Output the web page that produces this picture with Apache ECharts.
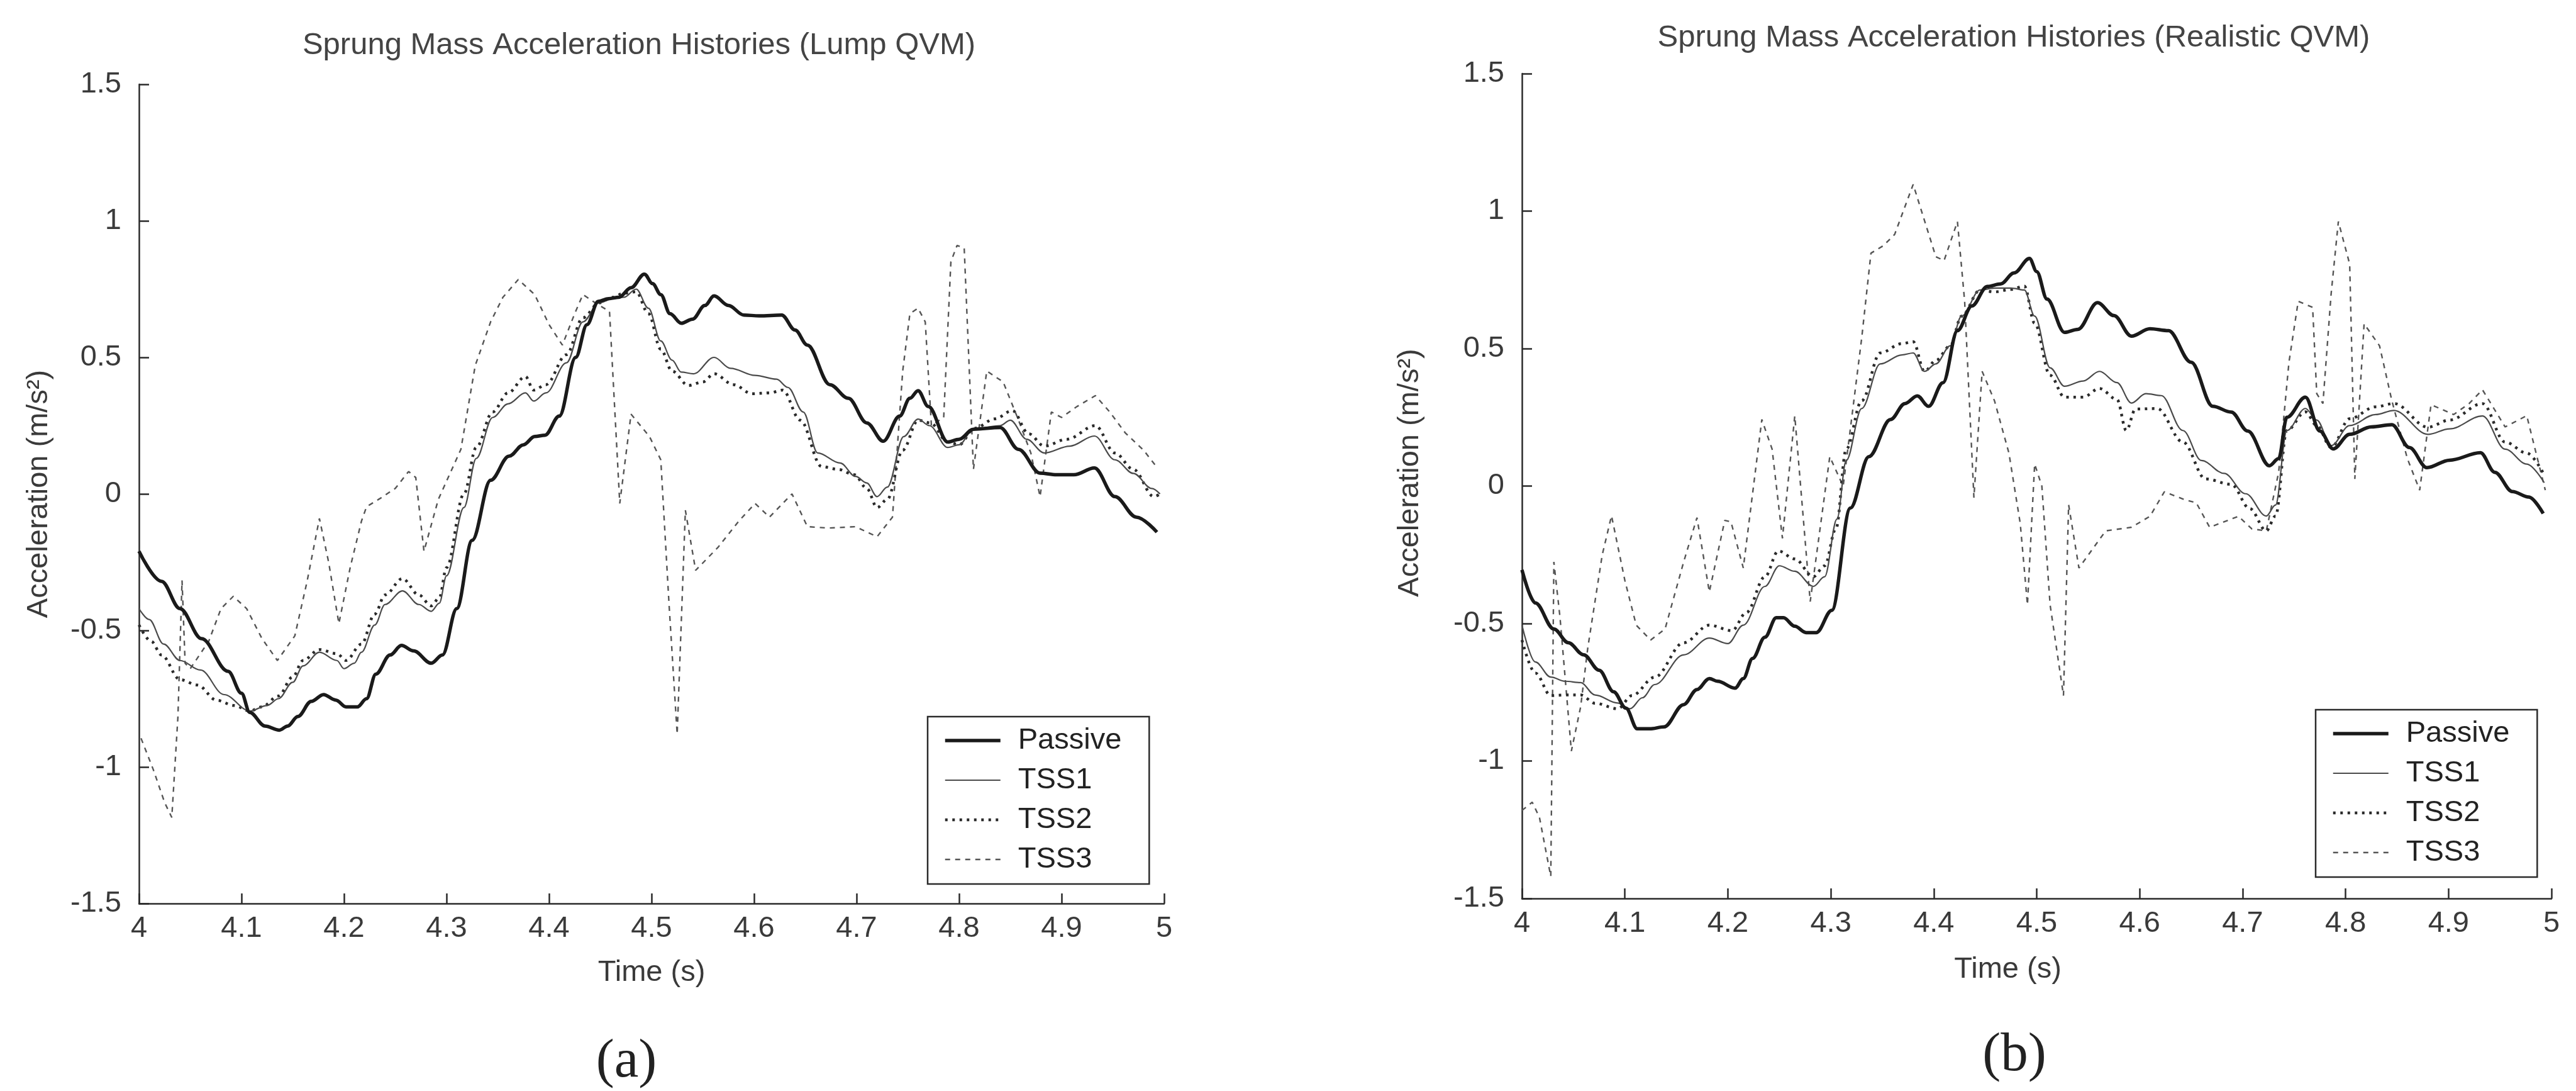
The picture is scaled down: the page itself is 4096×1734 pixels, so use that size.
<!DOCTYPE html>
<html>
<head>
<meta charset="utf-8">
<title>Sprung Mass Acceleration Histories</title>
<script src="https://cdn.jsdelivr.net/npm/echarts@6/dist/echarts.min.js"></script>
<style>
  html, body { margin: 0; padding: 0; background: #fff; }
  #chart { width: 4096px; height: 1734px; }
</style>
</head>
<body>
<div id="chart"></div>
<script>
// ---- Data: [time (s), acceleration (m/s^2)] ----
const seriesNames = ['Passive', 'TSS1', 'TSS2', 'TSS3'];
const panelTitles = ['Sprung Mass Acceleration Histories (Lump QVM)', 'Sprung Mass Acceleration Histories (Realistic QVM)'];
const panelTags = ['(a)', '(b)'];
const xAxisTitle = 'Time (s)';
const yAxisTitle = 'Acceleration (m/s²)';
const timeTicks = [4, 4.1, 4.2, 4.3, 4.4, 4.5, 4.6, 4.7, 4.8, 4.9, 5];
const accelTicks = [-1.5, -1, -0.5, 0, 0.5, 1, 1.5];

// Lump QVM
const lumpPassive = [[4.000,-0.21],[4.022,-0.32],[4.040,-0.42],[4.061,-0.53],[4.087,-0.65],[4.100,-0.73],[4.108,-0.80],[4.123,-0.85],[4.137,-0.865],[4.145,-0.85],[4.155,-0.815],[4.168,-0.76],[4.180,-0.735],[4.192,-0.755],[4.202,-0.78],[4.213,-0.78],[4.222,-0.75],[4.231,-0.66],[4.245,-0.59],[4.256,-0.555],[4.268,-0.575],[4.285,-0.62],[4.296,-0.59],[4.310,-0.42],[4.325,-0.17],[4.343,0.05],[4.361,0.138],[4.375,0.18],[4.386,0.21],[4.396,0.215],[4.410,0.285],[4.426,0.50],[4.437,0.62],[4.448,0.705],[4.458,0.715],[4.468,0.72],[4.480,0.755],[4.493,0.805],[4.501,0.77],[4.509,0.73],[4.518,0.66],[4.529,0.625],[4.540,0.64],[4.552,0.69],[4.561,0.725],[4.575,0.69],[4.590,0.655],[4.605,0.652],[4.627,0.655],[4.640,0.60],[4.652,0.545],[4.674,0.40],[4.692,0.35],[4.710,0.26],[4.726,0.193],[4.742,0.285],[4.752,0.35],[4.760,0.378],[4.770,0.32],[4.789,0.19],[4.800,0.20],[4.814,0.237],[4.840,0.243],[4.858,0.163],[4.879,0.076],[4.895,0.07],[4.912,0.07],[4.932,0.095],[4.952,-0.01],[4.973,-0.085],[4.993,-0.14]];
const lumpTSS1 = [[4.000,-0.42],[4.010,-0.46],[4.024,-0.55],[4.040,-0.61],[4.060,-0.645],[4.083,-0.735],[4.108,-0.795],[4.125,-0.775],[4.136,-0.75],[4.150,-0.69],[4.160,-0.63],[4.176,-0.58],[4.193,-0.61],[4.200,-0.64],[4.210,-0.62],[4.217,-0.58],[4.230,-0.48],[4.240,-0.405],[4.257,-0.355],[4.273,-0.405],[4.285,-0.43],[4.293,-0.40],[4.300,-0.30],[4.317,-0.05],[4.329,0.13],[4.345,0.28],[4.360,0.33],[4.377,0.37],[4.385,0.34],[4.397,0.37],[4.417,0.48],[4.433,0.63],[4.449,0.70],[4.462,0.715],[4.473,0.72],[4.485,0.75],[4.497,0.68],[4.509,0.56],[4.520,0.49],[4.529,0.446],[4.541,0.44],[4.561,0.50],[4.577,0.46],[4.601,0.434],[4.622,0.42],[4.633,0.39],[4.648,0.30],[4.662,0.15],[4.684,0.113],[4.699,0.064],[4.710,0.04],[4.720,-0.01],[4.730,0.025],[4.746,0.21],[4.760,0.274],[4.771,0.25],[4.789,0.17],[4.800,0.18],[4.814,0.237],[4.840,0.25],[4.850,0.27],[4.866,0.20],[4.883,0.15],[4.908,0.175],[4.932,0.212],[4.952,0.125],[4.970,0.075],[4.988,0.02],[4.996,0.0]];
const lumpTSS2 = [[4.000,-0.48],[4.012,-0.54],[4.022,-0.59],[4.040,-0.68],[4.057,-0.70],[4.076,-0.756],[4.093,-0.775],[4.108,-0.795],[4.120,-0.78],[4.136,-0.74],[4.150,-0.67],[4.160,-0.61],[4.176,-0.57],[4.193,-0.585],[4.202,-0.61],[4.217,-0.55],[4.230,-0.44],[4.240,-0.37],[4.257,-0.31],[4.273,-0.37],[4.285,-0.41],[4.293,-0.38],[4.300,-0.27],[4.317,0.0],[4.329,0.17],[4.345,0.30],[4.360,0.37],[4.377,0.43],[4.385,0.38],[4.397,0.40],[4.417,0.51],[4.433,0.645],[4.449,0.70],[4.462,0.72],[4.473,0.735],[4.485,0.74],[4.497,0.66],[4.509,0.53],[4.520,0.45],[4.536,0.397],[4.550,0.41],[4.561,0.44],[4.580,0.40],[4.598,0.367],[4.615,0.37],[4.628,0.38],[4.645,0.27],[4.666,0.10],[4.682,0.09],[4.698,0.07],[4.710,0.02],[4.720,-0.05],[4.730,-0.02],[4.745,0.16],[4.760,0.27],[4.772,0.26],[4.789,0.19],[4.800,0.18],[4.815,0.24],[4.835,0.275],[4.852,0.305],[4.868,0.22],[4.883,0.175],[4.905,0.20],[4.933,0.25],[4.952,0.15],[4.970,0.09],[4.990,-0.01],[4.996,0.0]];
const lumpTSS3 = [[4.002,-0.895],[4.014,-1.01],[4.025,-1.13],[4.032,-1.185],[4.038,-0.815],[4.042,-0.317],[4.045,-0.62],[4.050,-0.64],[4.068,-0.54],[4.080,-0.42],[4.092,-0.375],[4.105,-0.42],[4.120,-0.53],[4.135,-0.61],[4.152,-0.52],[4.164,-0.32],[4.176,-0.09],[4.185,-0.25],[4.195,-0.475],[4.206,-0.27],[4.217,-0.10],[4.222,-0.047],[4.235,-0.017],[4.250,0.02],[4.263,0.082],[4.270,0.06],[4.278,-0.21],[4.292,-0.02],[4.314,0.163],[4.328,0.47],[4.343,0.63],[4.355,0.72],[4.370,0.785],[4.386,0.73],[4.400,0.62],[4.413,0.545],[4.425,0.66],[4.433,0.73],[4.445,0.70],[4.459,0.668],[4.469,-0.035],[4.480,0.292],[4.498,0.21],[4.509,0.125],[4.517,-0.40],[4.525,-0.88],[4.533,-0.06],[4.543,-0.28],[4.565,-0.195],[4.585,-0.10],[4.601,-0.035],[4.615,-0.085],[4.637,0.0],[4.652,-0.12],[4.673,-0.125],[4.699,-0.12],[4.720,-0.157],[4.735,-0.085],[4.745,0.45],[4.752,0.66],[4.760,0.68],[4.767,0.63],[4.773,0.25],[4.785,0.28],[4.792,0.85],[4.798,0.91],[4.805,0.90],[4.814,0.09],[4.827,0.45],[4.843,0.41],[4.858,0.27],[4.870,0.15],[4.879,-0.01],[4.890,0.30],[4.900,0.28],[4.915,0.32],[4.933,0.36],[4.947,0.30],[4.962,0.224],[4.980,0.16],[4.991,0.107]];

// Realistic QVM
const realPassive = [[4.000,-0.305],[4.013,-0.425],[4.031,-0.52],[4.045,-0.57],[4.060,-0.614],[4.075,-0.67],[4.089,-0.748],[4.101,-0.808],[4.112,-0.883],[4.124,-0.883],[4.138,-0.876],[4.157,-0.795],[4.170,-0.74],[4.182,-0.70],[4.190,-0.71],[4.207,-0.735],[4.215,-0.70],[4.224,-0.627],[4.236,-0.55],[4.247,-0.479],[4.254,-0.479],[4.265,-0.51],[4.276,-0.533],[4.286,-0.533],[4.301,-0.452],[4.319,-0.08],[4.337,0.107],[4.358,0.242],[4.372,0.30],[4.384,0.328],[4.395,0.29],[4.409,0.376],[4.423,0.565],[4.437,0.655],[4.452,0.726],[4.465,0.735],[4.478,0.775],[4.493,0.828],[4.500,0.78],[4.510,0.68],[4.527,0.559],[4.540,0.57],[4.559,0.667],[4.575,0.62],[4.592,0.545],[4.610,0.572],[4.628,0.565],[4.650,0.45],[4.671,0.29],[4.689,0.269],[4.705,0.20],[4.726,0.074],[4.735,0.10],[4.743,0.25],[4.761,0.323],[4.775,0.20],[4.788,0.135],[4.804,0.188],[4.825,0.215],[4.845,0.223],[4.862,0.14],[4.879,0.067],[4.901,0.094],[4.931,0.121],[4.945,0.05],[4.962,-0.02],[4.978,-0.04],[4.992,-0.10]];
const realTSS1 = [[4.000,-0.506],[4.013,-0.64],[4.028,-0.695],[4.042,-0.71],[4.057,-0.715],[4.071,-0.76],[4.093,-0.789],[4.105,-0.81],[4.117,-0.77],[4.129,-0.722],[4.157,-0.614],[4.182,-0.553],[4.200,-0.573],[4.215,-0.506],[4.236,-0.365],[4.250,-0.29],[4.265,-0.31],[4.283,-0.365],[4.294,-0.33],[4.306,-0.12],[4.315,0.093],[4.330,0.282],[4.348,0.444],[4.369,0.477],[4.380,0.484],[4.391,0.417],[4.402,0.444],[4.416,0.51],[4.427,0.618],[4.445,0.713],[4.459,0.72],[4.475,0.72],[4.488,0.713],[4.498,0.618],[4.513,0.43],[4.527,0.363],[4.545,0.382],[4.561,0.417],[4.578,0.376],[4.592,0.302],[4.606,0.336],[4.621,0.329],[4.642,0.202],[4.660,0.093],[4.682,0.046],[4.703,-0.028],[4.723,-0.109],[4.732,-0.069],[4.743,0.202],[4.761,0.282],[4.772,0.24],[4.786,0.147],[4.804,0.22],[4.829,0.26],[4.847,0.275],[4.880,0.188],[4.901,0.208],[4.933,0.255],[4.955,0.134],[4.976,0.08],[4.993,0.012]];
const realTSS2 = [[4.000,-0.56],[4.013,-0.68],[4.028,-0.762],[4.042,-0.76],[4.057,-0.76],[4.071,-0.79],[4.093,-0.81],[4.107,-0.762],[4.129,-0.695],[4.157,-0.57],[4.182,-0.506],[4.204,-0.526],[4.218,-0.46],[4.236,-0.33],[4.249,-0.236],[4.265,-0.265],[4.283,-0.33],[4.294,-0.29],[4.305,-0.155],[4.315,0.134],[4.330,0.31],[4.348,0.484],[4.369,0.518],[4.380,0.525],[4.391,0.417],[4.402,0.457],[4.416,0.51],[4.427,0.618],[4.445,0.713],[4.459,0.706],[4.475,0.715],[4.488,0.727],[4.498,0.592],[4.513,0.403],[4.527,0.323],[4.545,0.323],[4.561,0.355],[4.578,0.315],[4.587,0.202],[4.596,0.28],[4.617,0.282],[4.642,0.16],[4.664,0.026],[4.689,0.006],[4.707,-0.082],[4.723,-0.163],[4.732,-0.109],[4.743,0.202],[4.761,0.27],[4.772,0.22],[4.786,0.14],[4.804,0.245],[4.829,0.288],[4.847,0.30],[4.880,0.214],[4.901,0.24],[4.933,0.30],[4.955,0.16],[4.976,0.12],[4.993,0.04]];
const realTSS3 = [[4.000,-1.18],[4.010,-1.15],[4.017,-1.205],[4.028,-1.42],[4.031,-0.276],[4.037,-0.479],[4.048,-0.964],[4.057,-0.803],[4.064,-0.587],[4.078,-0.25],[4.087,-0.108],[4.100,-0.344],[4.111,-0.506],[4.125,-0.56],[4.139,-0.52],[4.157,-0.277],[4.170,-0.115],[4.182,-0.385],[4.197,-0.125],[4.203,-0.13],[4.215,-0.298],[4.233,0.242],[4.243,0.134],[4.253,-0.19],[4.265,0.255],[4.280,-0.42],[4.299,0.107],[4.312,-0.001],[4.330,0.538],[4.339,0.847],[4.351,0.874],[4.362,0.915],[4.380,1.097],[4.402,0.834],[4.410,0.82],[4.423,0.962],[4.430,0.672],[4.439,-0.042],[4.447,0.417],[4.459,0.31],[4.473,0.12],[4.484,-0.136],[4.491,-0.432],[4.498,0.08],[4.505,0.0],[4.513,-0.432],[4.526,-0.762],[4.531,-0.068],[4.541,-0.298],[4.567,-0.163],[4.592,-0.15],[4.610,-0.11],[4.624,-0.021],[4.644,-0.05],[4.655,-0.061],[4.668,-0.15],[4.696,-0.11],[4.709,-0.156],[4.723,-0.163],[4.735,0.05],[4.745,0.45],[4.754,0.672],[4.768,0.65],[4.772,0.336],[4.778,0.30],[4.786,0.70],[4.793,0.962],[4.804,0.807],[4.809,0.026],[4.818,0.59],[4.833,0.51],[4.845,0.31],[4.860,0.10],[4.872,-0.015],[4.883,0.296],[4.905,0.26],[4.920,0.30],[4.933,0.35],[4.955,0.215],[4.976,0.256],[4.994,-0.015]];

const panelData = [
  [lumpPassive, lumpTSS1, lumpTSS2, lumpTSS3],
  [realPassive, realTSS1, realTSS2, realTSS3]
];

// ---- Styling ----
const FONT = '"Liberation Sans", Arial, Helvetica, sans-serif';
const SERIF = '"Liberation Serif", "Times New Roman", serif';
const INK = '#2a2a2a';
const TEXT = '#3a3a3a';

const lineStyles = [
  { color: '#1a1a1a', width: 5.5, type: 'solid' },        // Passive: heavy solid
  { color: '#4a4a4a', width: 2.2, type: 'solid' },        // TSS1: thin solid
  { color: '#2a2a2a', width: 4.5, type: [4, 7.5] },       // TSS2: dotted
  { color: '#555555', width: 2.4, type: [8, 8] }          // TSS3: dashed
];
const smoothing = [0.35, 0.35, 0.35, false];

// Panel geometry (pixels)
const grids = [
  { left: 221, top: 134, width: 1630, height: 1302 },
  { left: 2420, top: 117, width: 1637, height: 1311 }
];
const titlePos = [[1016, 72], [3202, 60]];
const tagPos = [[996, 1688], [3203, 1678]];
const legendPos = [[1475, 1139], [3682, 1128]];
const xNameGap = [87, 90];
const xNamePad = [[0, 0, 0, 0], [0, 92, 0, 0]];
const yNameGap = [135, 154];
const yNamePad = [[0, 0, 0, 0], [0, 0, 0, 42]];

const xAxes = grids.map((g, i) => ({
  type: 'value',
  gridIndex: i,
  min: timeTicks[0],
  max: timeTicks[timeTicks.length - 1],
  interval: 0.1,
  name: xAxisTitle,
  nameLocation: 'middle',
  nameGap: xNameGap[i],
  nameTextStyle: { fontFamily: FONT, fontSize: 47, color: TEXT, padding: xNamePad[i] },
  axisLine: { show: true, onZero: false, lineStyle: { color: INK, width: 2.5 } },
  axisTick: { show: true, inside: true, length: 16, lineStyle: { color: INK, width: 2.5 } },
  axisLabel: {
    fontFamily: FONT, fontSize: 47, color: TEXT, margin: 17,
    formatter: v => { const t = timeTicks.find(k => Math.abs(k - v) < 1e-6); return t === undefined ? '' : String(t); }
  },
  splitLine: { show: false }
}));

const yAxes = grids.map((g, i) => ({
  type: 'value',
  gridIndex: i,
  min: accelTicks[0],
  max: accelTicks[accelTicks.length - 1],
  interval: 0.5,
  name: yAxisTitle,
  nameLocation: 'middle',
  nameGap: yNameGap[i],
  nameRotate: 90,
  nameTextStyle: { fontFamily: FONT, fontSize: 47, color: TEXT, padding: yNamePad[i] },
  axisLine: { show: true, onZero: false, lineStyle: { color: INK, width: 2.5 } },
  axisTick: { show: true, inside: true, length: 16, lineStyle: { color: INK, width: 2.5 } },
  axisLabel: {
    fontFamily: FONT, fontSize: 47, color: TEXT, margin: 28,
    formatter: v => { const t = accelTicks.find(k => Math.abs(k - v) < 1e-6); return t === undefined ? '' : String(t); }
  },
  splitLine: { show: false }
}));

const series = [];
panelData.forEach((set, p) => {
  set.forEach((data, k) => {
    series.push({
      type: 'line',
      name: seriesNames[k],
      xAxisIndex: p,
      yAxisIndex: p,
      data: data,
      showSymbol: false,
      symbol: 'none',
      smooth: smoothing[k],
      smoothMonotone: 'x',
      lineStyle: lineStyles[k],
      itemStyle: { color: lineStyles[k].color },
      z: 4 - k,
      animation: false
    });
  });
});

const legends = legendPos.map(pos => ({
  orient: 'vertical',
  left: pos[0],
  top: pos[1],
  data: seriesNames,
  backgroundColor: '#fff',
  borderColor: INK,
  borderWidth: 2.5,
  borderRadius: 0,
  padding: [13, 44, 14, 25],
  itemGap: 13,
  itemWidth: 88,
  itemHeight: 14,
  selectedMode: false,
  itemStyle: { opacity: 0, borderWidth: 0 },
  lineStyle: { width: 'inherit', type: 'inherit', opacity: 1 },
  textStyle: { fontFamily: FONT, fontSize: 47, lineHeight: 50, color: '#222', padding: [0, 0, 0, 23] },
  z: 10
}));

const graphics = [];
panelTitles.forEach((t, i) => {
  graphics.push({
    type: 'text', x: titlePos[i][0], y: titlePos[i][1],
    style: { text: t, font: '49px ' + FONT, fill: '#444', align: 'center', verticalAlign: 'middle', textAlign: 'center', textVerticalAlign: 'middle' }
  });
});
panelTags.forEach((t, i) => {
  graphics.push({
    type: 'text', x: tagPos[i][0], y: tagPos[i][1],
    style: { text: t, font: '87px ' + SERIF, fill: '#222', align: 'center', verticalAlign: 'middle', textAlign: 'center', textVerticalAlign: 'middle' }
  });
});

const chart = echarts.init(document.getElementById('chart'), null, { renderer: 'canvas', width: 4096, height: 1734 });
chart.setOption({
  backgroundColor: '#fff',
  animation: false,
  grid: grids,
  xAxis: xAxes,
  yAxis: yAxes,
  legend: legends,
  series: series,
  graphic: graphics
});
</script>
</body>
</html>
